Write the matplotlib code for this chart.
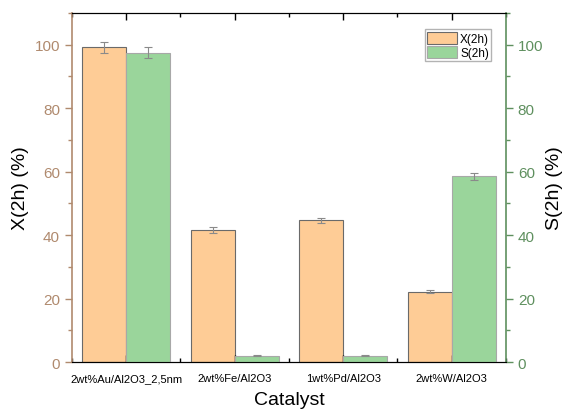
import numpy as np
import matplotlib
matplotlib.use("Agg")
import matplotlib.pyplot as plt
from matplotlib.ticker import MultipleLocator

plt.rcParams["font.family"] = ["Liberation Sans", "DejaVu Sans"]

# 資料
catalysts = ["2wt%Au/Al2O3_2,5nm", "2wt%Fe/Al2O3", "1wt%Pd/Al2O3", "2wt%W/Al2O3"]
x_2h = [99.2, 41.5, 44.6, 22.2]
x_2h_err = [1.8, 0.9, 0.8, 0.4]
s_2h = [97.5, 2.0, 2.0, 58.5]
s_2h_err = [1.8, 0.1, 0.1, 1.1]

c_left = "#b08a6e"
c_right = "#5f905f"
c_orange = "#fecc96"
c_green = "#9ad59b"

fig = plt.figure(figsize=(5.66, 4.10), dpi=100)
ax = fig.add_axes([0.127, 0.1146, 0.767, 0.8514])
ax2 = ax.twinx()

pos = np.arange(1, len(catalysts) + 1)
w = 0.405
err_kw = dict(ecolor="#8a8a8a", elinewidth=0.8, capsize=3, capthick=0.8)

ax.bar(pos - w / 2, x_2h, w, yerr=x_2h_err, color=c_orange,
       edgecolor="#6a6a6a", linewidth=0.8, error_kw=err_kw, label="X(2h)")
ax2.bar(pos + w / 2, s_2h, w, yerr=s_2h_err, color=c_green,
        edgecolor="#a8a8a8", linewidth=0.8, error_kw=err_kw, label="S(2h)")

for a in (ax, ax2):
    a.set_xlim(0.5, 4.5)
    a.set_ylim(0, 110)
    a.yaxis.set_major_locator(MultipleLocator(20))
    a.yaxis.set_minor_locator(MultipleLocator(10))

ax.set_xticks(pos)
ax.set_xticklabels(catalysts, fontsize=8)
ax.xaxis.set_minor_locator(MultipleLocator(0.5))
ax.tick_params(axis="x", which="major", direction="out", length=5, width=1, pad=8)
ax.tick_params(axis="x", which="minor", direction="out", length=3, width=1)
ax.tick_params(axis="x", top=True, which="both", direction="in")
ax.tick_params(axis="x", bottom=True, which="both")

ax.spines["left"].set_color(c_left)
ax.spines["left"].set_linewidth(1.2)
ax.spines["right"].set_visible(False)
ax.tick_params(axis="y", which="major", colors=c_left, labelsize=11, length=5, width=1)
ax.tick_params(axis="y", which="minor", colors=c_left, length=3, width=1)

ax2.spines["right"].set_color(c_right)
ax2.spines["right"].set_linewidth(1.2)
ax2.spines["left"].set_visible(False)
ax2.tick_params(axis="y", which="major", colors=c_right, labelsize=11, length=5, width=1)
ax2.tick_params(axis="y", which="minor", colors=c_right, length=3, width=1)

ax.set_ylabel("X(2h) (%)", fontsize=14, labelpad=4)
ax2.set_ylabel("S(2h) (%)", fontsize=14, labelpad=2)
ax.set_xlabel("Catalyst", fontsize=14, labelpad=6)

h1, l1 = ax.get_legend_handles_labels()
h2, l2 = ax2.get_legend_handles_labels()
ax2.legend(h1 + h2, l1 + l2, loc="upper right", fontsize=8.5, frameon=True,
           fancybox=False, edgecolor="#a0a0a0", borderpad=0.2, handlelength=2.5,
           handleheight=1.2, handletextpad=0.3, labelspacing=0.1,
           bbox_to_anchor=(0.98, 0.97))

fig.savefig("out.png", dpi=100)
